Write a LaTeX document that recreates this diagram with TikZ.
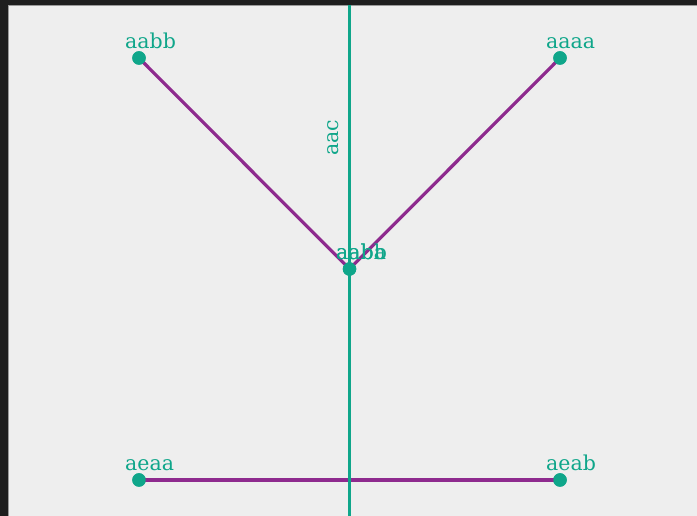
\documentclass[tikz,border=0pt]{standalone}
\usepackage{fontspec}
\setmainfont{DejaVu Serif}
\definecolor{bgdark}{HTML}{1E1E1E}
\definecolor{bglight}{HTML}{EEEEEE}
\definecolor{edgegray}{HTML}{9A9A9A}
\definecolor{tealc}{HTML}{0FA68A}
\definecolor{purp}{HTML}{8E2A8E}
\begin{document}
\begin{tikzpicture}[x=1pt,y=1pt,
  dot/.style={circle,fill=tealc,inner sep=0pt,minimum size=13.5pt},
  lbl/.style={text=tealc,font=\fontsize{20.5}{24}\selectfont,inner sep=0pt,anchor=base west},
  edge/.style={draw=purp,line width=3.2pt},
  axis/.style={draw=tealc,line width=3.2pt}]
\useasboundingbox (0,0) rectangle (697,516);
\fill[bgdark] (0,0) rectangle (697,516);
\fill[bglight] (8,0) rectangle (697,511);
\draw[edgegray,line width=1pt] (8.5,0) -- (8.5,510.5) -- (697,510.5);
\coordinate (vtop) at (349.5,511);
\coordinate (vbot) at (349.5,0);
\node[dot] (aabb) at (139,458) {};
\node[dot] (aaaa) at (560,458) {};
\node[dot] (ctr) at (349.5,247) {};
\node[dot] (aeaa) at (139,36) {};
\node[dot] (aeab) at (560,36) {};
\draw[edge] (aabb.center) -- (ctr.center);
\draw[edge] (aaaa.center) -- (ctr.center);
\draw[edge] (aeaa.center) -- (aeab.center);
\draw[axis] (vtop) -- (vbot);
\node[dot] at (ctr) {};
\node[dot] at (aabb) {};
\node[dot] at (aaaa) {};
\node[dot] at (aeaa) {};
\node[dot] at (aeab) {};
\node[lbl] (laabb) at (125,467) {aabb};
\node[lbl] (laaaa) at (546,467) {aaaa};
\node[lbl] (laeaa) at (125,45) {aeaa};
\node[lbl] (laeab) at (546,45) {aeab};
\node[lbl] (lc1) at (336,256) {aaba};
\node[lbl] (lc2) at (336,256) {aabb};
\node[text=tealc,font=\fontsize{20.5}{24}\selectfont,inner sep=0pt,rotate=90] (laac) at (333,378) {aac};
\end{tikzpicture}
\end{document}
